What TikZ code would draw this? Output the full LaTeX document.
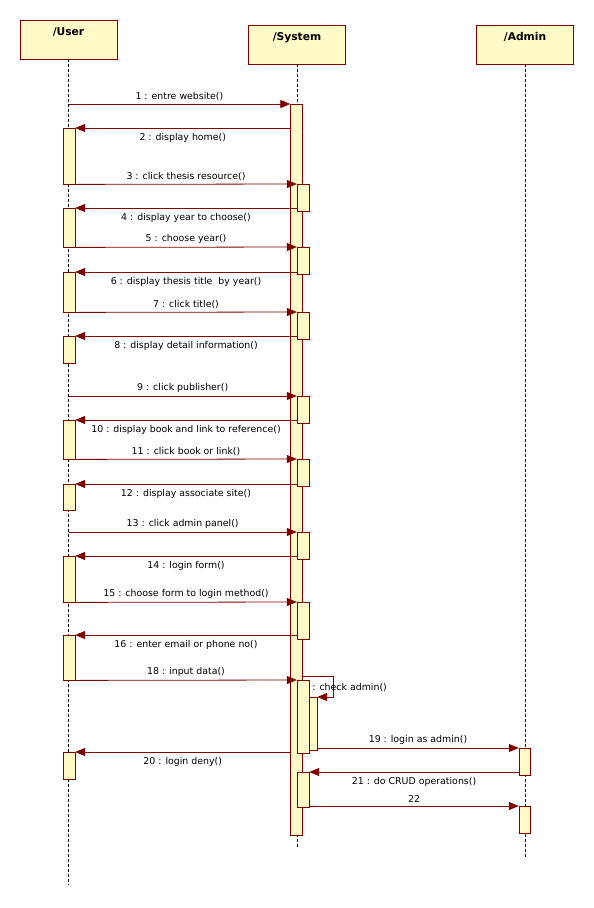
\documentclass[tikz,border=0pt]{standalone}
\usepackage{fontspec}
\setmainfont{DejaVu Sans}
\usetikzlibrary{arrows.meta, positioning}
\definecolor{barfill}{RGB}{255,250,200}
\definecolor{umlred}{RGB}{128,0,0}

\begin{document}
\begin{tikzpicture}
    [
        x=1pt, y=-1pt,
        font=\fontsize{9.4}{11}\selectfont,
        head/.style={draw=umlred, fill=barfill, minimum width=97pt, anchor=north,
            font=\fontsize{10.7}{12}\selectfont\bfseries,
            inner ysep=7.3pt, text height=8pt, text depth=16.4pt},
        bar/.style={draw=umlred, fill=barfill, minimum width=12pt, anchor=north, inner sep=0pt},
        life/.style={draw=black, dash pattern=on 3pt off 2pt}
    ]
    \tikzstyle{msg} = [draw=umlred, line width=0.8pt, -{Triangle[length=10pt,width=8pt]}]
    \tikzstyle{calltext} = [midway, above=1pt, inner sep=2pt, text=black]
    \tikzstyle{replytext} = [midway, below=3pt, inner sep=2pt, text=black]

    \useasboundingbox (0,0) rectangle (594,908);

    % lifelines
    \node[head] (user) at (68.5,20) {/User};
    \node[head] (system) at (297,24.5) {/System};
    \node[head] (admin) at (525,24.5) {/Admin};
    \coordinate (userend) at (69,885);
    \coordinate (systemend) at (297,848);
    \coordinate (adminend) at (525,858);
    \path[life] (user) -- (user.south |- userend);
    \path[life] (system) -- (system.south |- systemend);
    \path[life] (admin) -- (admin.south |- adminend);

    % activations
    \node[bar, minimum height=731pt] (sysbar) at (296.5,104) {};
    \node[bar, minimum height=56pt] (ua2) at (69,128) {};
    \node[bar, minimum height=39pt] (ua4) at (69,208) {};
    \node[bar, minimum height=40pt] (ua6) at (69,272) {};
    \node[bar, minimum height=27pt] (ua8) at (69,336) {};
    \node[bar, minimum height=39pt] (ua10) at (69,420) {};
    \node[bar, minimum height=26pt] (ua12) at (69,484) {};
    \node[bar, minimum height=46pt] (ua14) at (69,556) {};
    \node[bar, minimum height=45pt] (ua16) at (69,635) {};
    \node[bar, minimum height=27pt] (ua20) at (69,752) {};

    \node[bar, minimum height=27pt] (sb3) at (303,184) {};
    \node[bar, minimum height=27pt] (sb5) at (303,247) {};
    \node[bar, minimum height=27pt] (sb7) at (303,312) {};
    \node[bar, minimum height=27pt] (sb9) at (303,396) {};
    \node[bar, minimum height=27pt] (sb11) at (303,459) {};
    \node[bar, minimum height=27pt] (sb13) at (303,532) {};
    \node[bar, minimum height=37pt] (sb15) at (303,602) {};
    \node[bar, minimum height=73pt] (sb18) at (303,680) {};
    \node[bar, minimum height=53pt, minimum width=8pt] (sb18b) at (313,697) {};
    \node[bar, minimum height=35pt] (sb21) at (303,772) {};

    \node[bar, minimum height=27pt, minimum width=11pt] (ab19) at (524.5,748) {};
    \node[bar, minimum height=27pt, minimum width=11pt] (ab22) at (524.5,806) {};

    % messages
    \path[msg] (user.south |- sysbar.north) -- node[calltext] (l1) {1 : entre website()} (sysbar.north west);
    \path[msg] (sysbar.west |- ua2.north) -- node[replytext] (l2) {2 : display home()} (ua2.north east);
    \path[msg] (ua2.south east) -- node[calltext] (l3) {3 : click thesis resource()} (sb3.north west);
    \path[msg] (sb3.west |- ua4.north) -- node[replytext] (l4) {4 : display year to choose()} (ua4.north east);
    \path[msg] (ua4.south east) -- node[calltext] (l5) {5 : choose year()} (sb5.north west);
    \path[msg] (sb5.west |- ua6.north) -- node[replytext] (l6) {6 : display thesis title\ \ by year()} (ua6.north east);
    \path[msg] (ua6.south east) -- node[calltext] (l7) {7 : click title()} (sb7.north west);
    \path[msg] (sb7.west |- ua8.north) -- node[replytext] (l8) {8 : display detail information()} (ua8.north east);
    \path[msg] (user.south |- sb9.north) -- node[calltext] (l9) {9 : click publisher()} (sb9.north west);
    \path[msg] (sb9.west |- ua10.north) -- node[replytext] (l10) {10 : display book and link to reference()} (ua10.north east);
    \path[msg] (ua10.south east) -- node[calltext] (l11) {11 : click book or link()} (sb11.north west);
    \path[msg] (sb11.west |- ua12.north) -- node[replytext] (l12) {12 : display associate site()} (ua12.north east);
    \path[msg] (user.south |- sb13.north) -- node[calltext] (l13) {13 : click admin panel()} (sb13.north west);
    \path[msg] (sb13.west |- ua14.north) -- node[replytext] (l14) {14 : login form()} (ua14.north east);
    \path[msg] (ua14.south east) -- node[calltext] (l15) {15 : choose form to login method()} (sb15.north west);
    \path[msg] (sb15.west |- ua16.north) -- node[replytext] (l16) {16 : enter email or phone no()} (ua16.north east);
    \path[msg] (ua16.south east) -- node[calltext] (l18) {18 : input data()} (sb18.north west);

    \coordinate (selfloop) at (333,676);
    \path[msg] (sysbar.east |- selfloop) -- (selfloop) |- (sb18b.north east);
    \node[anchor=west, inner sep=1pt] (lcheck) at ([xshift=2pt,yshift=-8pt]sb18.north east) {: check admin()};

    \path[msg] (sb18b.east |- ab19.north) -- node[calltext] (l19) {19 : login as admin()} (ab19.north west);
    \path[msg] (sysbar.west |- ua20.north) -- node[replytext] (l20) {20 : login deny()} (ua20.north east);
    \path[msg] (ab19.west |- sb21.north) -- node[replytext] (l21) {21 : do CRUD operations()} (sb21.north east);
    \path[msg] (sb21.east |- ab22.north) -- node[calltext] (l22) {22} (ab22.north west);

\end{tikzpicture}
\end{document}
